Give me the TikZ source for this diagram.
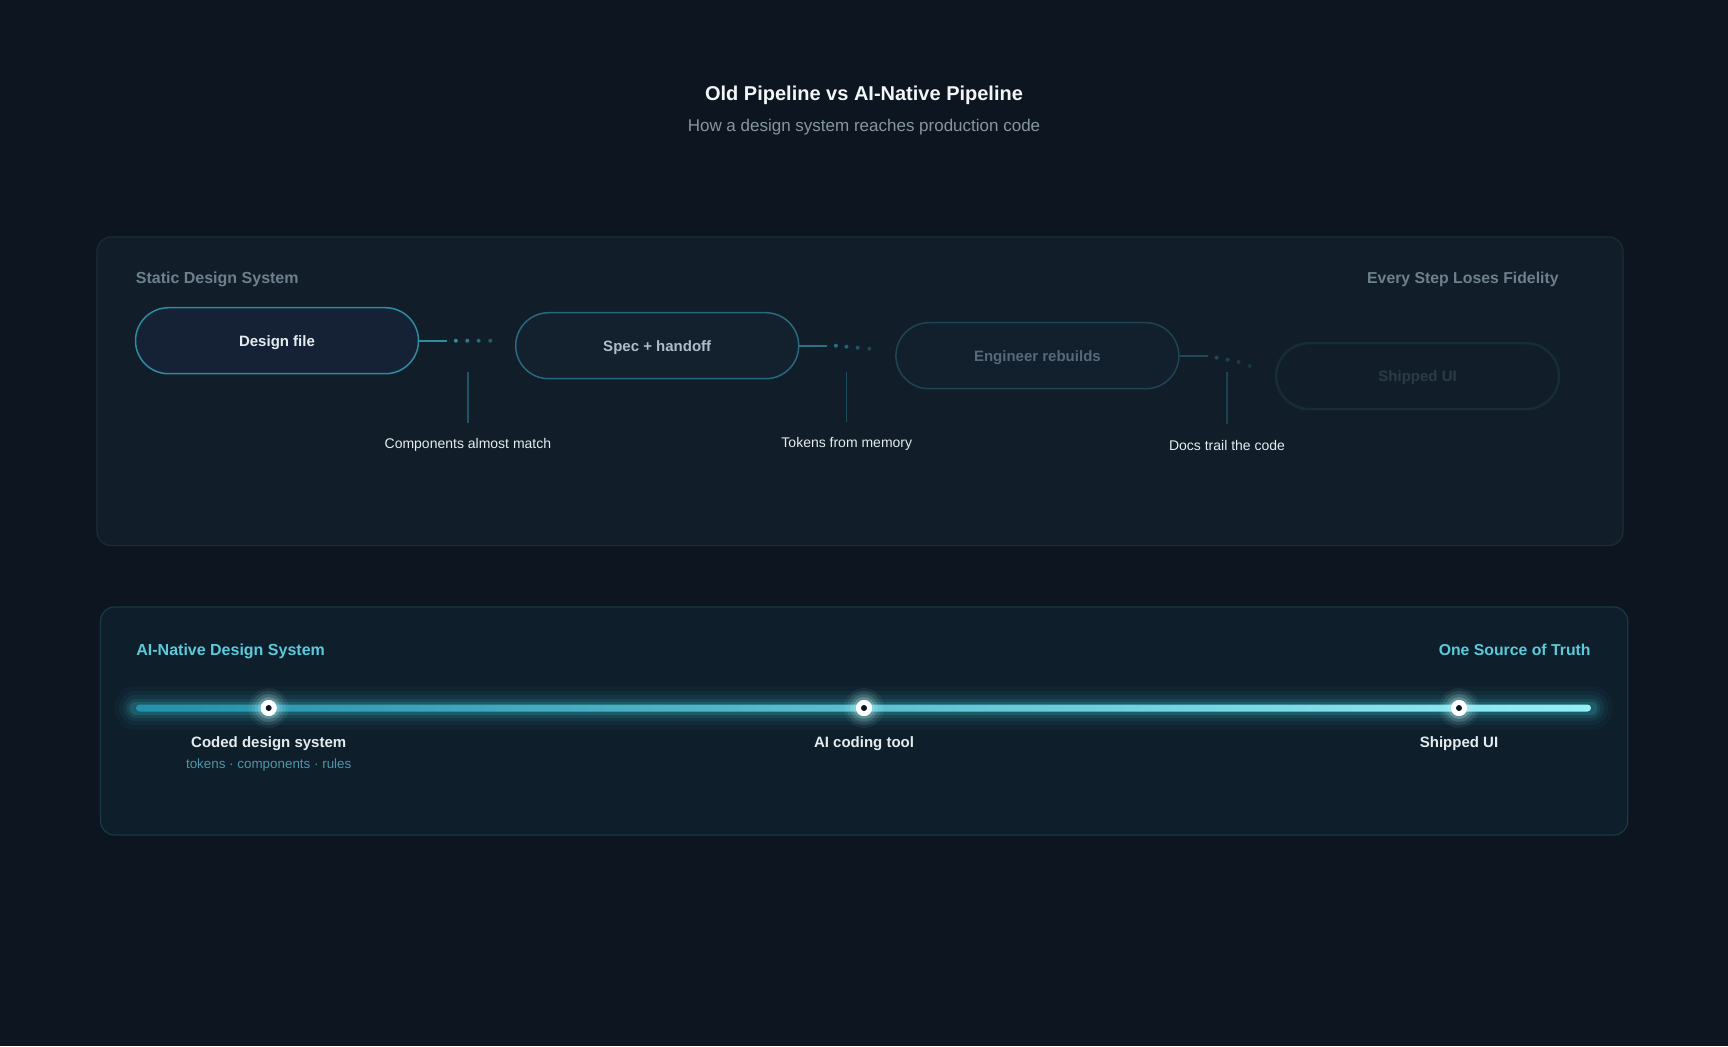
\documentclass[tikz,border=0pt]{standalone}
\usepackage{fontspec}
\setmainfont{Liberation Sans}
\usetikzlibrary{shapes.geometric, arrows, positioning}
\definecolor{bgdark}{HTML}{0D1620}
\definecolor{panelold}{HTML}{111D28}
\definecolor{edgeold}{HTML}{1D2B38}
\definecolor{panelnew}{HTML}{0E1E2A}
\definecolor{edgenew}{HTML}{1A3845}
\definecolor{headgrey}{HTML}{6D808D}
\definecolor{headteal}{HTML}{5CCADA}
\definecolor{subteal}{HTML}{4E97A8}
\definecolor{softwhite}{HTML}{E4ECF0}
\definecolor{titlewhite}{HTML}{F2F6F8}
\definecolor{subgrey}{HTML}{8795A1}
\definecolor{barA}{HTML}{2391AB}
\definecolor{barB}{HTML}{40CBDC}
\definecolor{barC}{HTML}{92F0F7}
\definecolor{glowcol}{HTML}{BFF6FA}
\definecolor{edgeA}{HTML}{2F8B9E}
\definecolor{edgeB}{HTML}{29697B}
\definecolor{edgeC}{HTML}{1E4553}
\definecolor{edgeD}{HTML}{172B38}
\definecolor{fillA}{HTML}{152236}
\definecolor{fillB}{HTML}{13212F}
\definecolor{fillC}{HTML}{121F2C}
\definecolor{fillD}{HTML}{111E2A}
\definecolor{textB}{HTML}{AEBCC6}
\definecolor{textC}{HTML}{55697A}
\definecolor{textD}{HTML}{2A3B48}
\definecolor{linkA}{HTML}{2F8B9E}
\definecolor{linkB}{HTML}{2A7386}
\definecolor{linkC}{HTML}{1F4A59}
\definecolor{dropA}{HTML}{1F5566}
\definecolor{dropB}{HTML}{1D4C5B}
\definecolor{dropC}{HTML}{1B4352}
\tikzstyle{stage} = [rectangle, rounded corners=16.5pt, minimum width=141.5pt, minimum height=33pt, text centered, text height=5.6pt, text depth=0pt, line width=0.75pt, font=\fontsize{7.5}{9}\selectfont\bfseries]
\tikzstyle{stageA} = [stage, draw=edgeA, fill=fillA, text=softwhite]
\tikzstyle{stageB} = [stage, draw=edgeB, fill=fillB, text=textB]
\tikzstyle{stageC} = [stage, draw=edgeC, fill=fillC, text=textC]
\tikzstyle{stageD} = [stage, draw=edgeD, line width=1.3pt, fill=fillD, text=textD]
\tikzstyle{drop} = [line width=0.6pt]
\tikzstyle{note} = [font=\fontsize{7}{8.5}\selectfont, text=softwhite, inner ysep=7.5pt]
\tikzstyle{head} = [font=\fontsize{8}{10}\selectfont\bfseries, inner sep=0pt]
\tikzstyle{marker} = [circle, fill=white, minimum size=8pt, inner sep=0pt]
\tikzstyle{milestone} = [font=\fontsize{7.5}{9}\selectfont\bfseries, text=softwhite, inner sep=0pt]
\begin{document}
\begin{tikzpicture}[x=0.5pt, y=-0.5pt]
\fill[bgdark] (0,0) rectangle (1728,1046);
\useasboundingbox (0,0) rectangle (1728,1046);

\node[font=\fontsize{10}{12}\selectfont\bfseries, text=titlewhite] (title) at (864,95) {Old Pipeline vs AI-Native Pipeline};
\node[font=\fontsize{8.5}{10}\selectfont, text=subgrey] (subtitle) at (864,127) {How a design system reaches production code};

\draw[fill=panelold, draw=edgeold, line width=0.6pt, rounded corners=7pt] (97,237) rectangle (1623,545.5);
\node[head, text=headgrey, anchor=base west] (oldhead) at (135.5,283.5) {Static Design System};
\node[head, text=headgrey, anchor=base east, font=\fontsize{7.9}{10}\selectfont\bfseries] (oldtag) at (1559,283.5) {Every Step Loses Fidelity};

\node[stageA] (n1) at (277,340.7) {Design file};
\node[stageB, right of = n1, node distance=190.1pt, yshift=-2.5pt] (n2) {Spec + handoff};
\node[stageC, right of = n2, node distance=190.1pt, yshift=-5pt] (n3) {Engineer rebuilds};
\node[stageD, right of = n3, node distance=190.1pt, yshift=-10.2pt] (n4) {Shipped UI};

\draw[line width=0.8pt, linkA] (n1.east) -- ++(14pt,0) coordinate (e1);
\draw[line width=0.8pt, linkB] (n2.east) -- ++(14pt,0) coordinate (e2);
\draw[line width=0.8pt, linkC] (n3.east) -- ++(14.3pt,0) coordinate (e3);
\foreach \dx/\o in {18.3/1, 24/0.85, 29.7/0.7, 35.5/0.55}
  \fill[linkA, opacity=\o] ([xshift=\dx pt]n1.east) circle (1pt);
\foreach \dx/\dy/\o in {18.2/0/1, 23.5/-0.5/0.8, 29.1/-1/0.65, 34.9/-1.5/0.5}
  \fill[linkB, opacity=\o] ([xshift=\dx pt, yshift=\dy pt]n2.east) circle (1pt);
\foreach \dx/\dy/\o in {18.5/-0.95/1, 24/-1.95/0.85, 29.5/-3.1/0.7, 35/-5.1/0.55}
  \fill[linkC, opacity=\o] ([xshift=\dx pt, yshift=\dy pt]n3.east) circle (1pt);

\coordinate (g1) at (467.9,372);
\coordinate (g2) at (846.8,372);
\coordinate (g3) at (1227,372);
\node[note] (lb1) at (467.9,445) {Components almost match};
\node[note] (lb2) at (846.8,444) {Tokens from memory};
\node[note] (lb3) at (1227,445) {Docs trail the code};
\draw[drop, dropA] (g1) -- (lb1.north);
\draw[drop, dropB] (g2) -- (lb2.north);
\draw[drop, dropC] (g3) -- (lb3.north);

\draw[fill=panelnew, draw=edgenew, line width=0.6pt, rounded corners=7pt] (100.5,607) rectangle (1627.7,835);
\node[head, text=headteal, anchor=base west] (newhead) at (136,655.5) {AI-Native Design System};
\node[head, text=headteal, anchor=base east, font=\fontsize{7.9}{10}\selectfont\bfseries] (newtag) at (1591,655.5) {One Source of Truth};

\coordinate (tl0) at (136,708);
\coordinate (tl1) at (1591,708);
\foreach \w/\o in {22/0.035, 17/0.05, 13/0.07, 9.5/0.1, 6.5/0.16}
  \draw[line width=\w pt, line cap=round, barB, opacity=\o] (tl0) -- (tl1);
\shade[left color=barA, middle color=barB, right color=barC, rounded corners=1.75pt] ([yshift=1.75pt]tl0) rectangle ([yshift=-1.75pt]tl1);

\node[marker] (m1) at (268.7,708) {};
\node[marker] (m2) at (864,708) {};
\node[marker] (m3) at (1459,708) {};
\foreach \m in {m1, m2, m3} {
  \foreach \r/\o in {10/0.06, 8.5/0.09, 7/0.14, 5.5/0.22}
    \fill[glowcol, opacity=\o] (\m) circle (\r pt);
  \fill[white] (\m) circle (4pt);
  \fill[bgdark] (\m) circle (1.5pt);
}

\node[milestone, below of = m1, node distance=18pt] (c1) {Coded design system};
\node[font=\fontsize{6.7}{8}\selectfont, text=subteal, inner sep=0pt, below of = c1, node distance=10.5pt] (c1sub) {tokens · components · rules};
\node[milestone, below of = m2, node distance=18pt] (c2) {AI coding tool};
\node[milestone, below of = m3, node distance=18pt] (c3) {Shipped UI};

\end{tikzpicture}
\end{document}
